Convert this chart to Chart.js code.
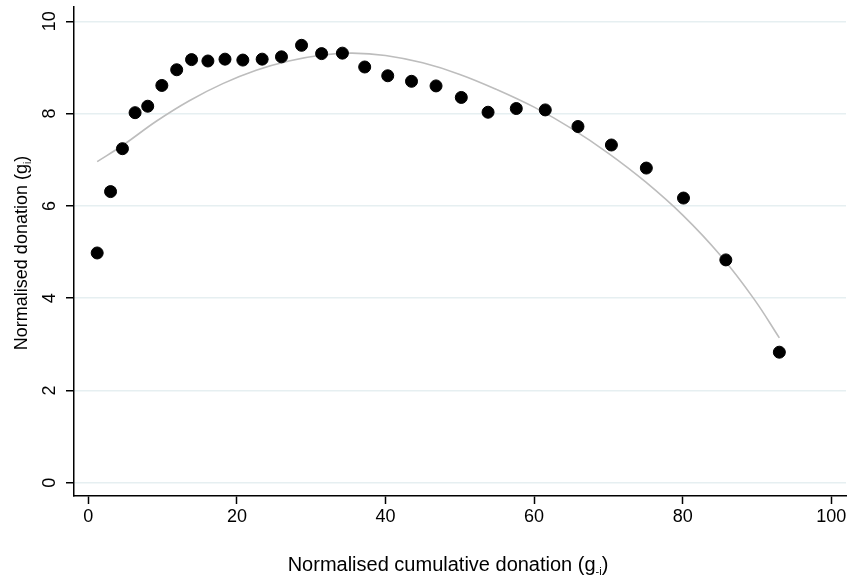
<!DOCTYPE html>
<html>
<head>
<meta charset="utf-8">
<script src="https://cdn.jsdelivr.net/npm/chart.js@4.4.1/dist/chart.umd.min.js"></script>
<style>
  html, body { margin: 0; padding: 0; background: #fff; }
  #wrap { width: 853px; height: 581px; position: relative; }
</style>
</head>
<body>
<div id="wrap"><canvas id="chart"></canvas></div>
<script>
/* Data */
const donX = [1.2, 3.0, 4.6, 6.3, 8.0, 9.9, 11.9, 13.9, 16.1, 18.4, 20.8, 23.4, 26.0, 28.7, 31.4,
  34.2, 37.2, 40.3, 43.5, 46.8, 50.2, 53.8, 57.6, 61.5, 65.9, 70.4, 75.1, 80.1, 85.8, 93.0];
const donY = [4.98, 6.31, 7.24, 8.02, 8.16, 8.61, 8.95, 9.17, 9.14, 9.18, 9.16, 9.18, 9.23, 9.48, 9.30,
  9.31, 9.01, 8.82, 8.70, 8.60, 8.35, 8.03, 8.11, 8.08, 7.72, 7.32, 6.82, 6.17, 4.83, 2.83];

// fitted curve
const fitX = [1.2, 4.7, 9.2, 13.6, 18.1, 22.6, 27.0, 31.5, 35.5, 40.0, 45.0, 50.0, 55.0, 60.0,
  65.0, 70.0, 75.0, 80.0, 85.0, 89.6, 93.0];
const fitY = [6.96, 7.32, 7.84, 8.28, 8.65, 8.94, 9.14, 9.27, 9.31, 9.26, 9.10, 8.85, 8.52, 8.14,
  7.68, 7.14, 6.52, 5.80, 4.94, 3.98, 3.14];

const xTicks = [0, 20, 40, 60, 80, 100];
const yTicks = [0, 2, 4, 6, 8, 10];

const xTitle = ['Normalised cumulative donation (g', '-i', ')'];
const yTitle = ['Normalised donation (g', 'i', ')'];

const FONT = "'Liberation Sans', Arial, sans-serif";

/* draw a title with a subscript part */
function drawSubTitle(ctx, parts, size, subSize) {
  ctx.font = size + 'px ' + FONT;
  const w0 = ctx.measureText(parts[0]).width;
  const w2 = ctx.measureText(parts[2]).width;
  ctx.font = subSize + 'px ' + FONT;
  const w1 = ctx.measureText(parts[1]).width;
  let x = -(w0 + w1 + w2) / 2;
  ctx.textAlign = 'left';
  ctx.textBaseline = 'alphabetic';
  ctx.font = size + 'px ' + FONT;
  ctx.fillText(parts[0], x, 0); x += w0;
  ctx.font = subSize + 'px ' + FONT;
  ctx.fillText(parts[1], x, 4); x += w1;
  ctx.font = size + 'px ' + FONT;
  ctx.fillText(parts[2], x, 0);
}

const labelsPlugin = {
  id: 'labels',
  afterDraw(chart) {
    const ctx = chart.ctx;
    const ys = chart.scales.y;
    ctx.save();
    ctx.fillStyle = '#000';
    // rotated y tick labels
    ctx.font = '18px ' + FONT;
    yTicks.forEach(v => {
      ctx.save();
      ctx.translate(55, ys.getPixelForValue(v));
      ctx.rotate(-Math.PI / 2);
      ctx.textAlign = 'center';
      ctx.textBaseline = 'alphabetic';
      ctx.fillText(String(v), 0, 0);
      ctx.restore();
    });
    // x title
    ctx.save();
    ctx.translate(448, 571);
    drawSubTitle(ctx, xTitle, 20, 11);
    ctx.restore();
    // y title
    ctx.save();
    ctx.translate(27, 253);
    ctx.rotate(-Math.PI / 2);
    drawSubTitle(ctx, yTitle, 18, 10);
    ctx.restore();
    ctx.restore();
  }
};

new Chart(document.getElementById('chart'), {
  type: 'scatter',
  data: {
    datasets: [
      {
        data: donX.map((x, i) => ({ x, y: donY[i] })),
        backgroundColor: '#000', borderColor: '#000',
        pointRadius: 6, pointHoverRadius: 6
      },
      {
        type: 'line',
        data: fitX.map((x, i) => ({ x, y: fitY[i] })),
        borderColor: '#bdbdbd', borderWidth: 1.6,
        pointRadius: 0, fill: false, tension: 0.4
      }
    ]
  },
  options: {
    responsive: true,
    maintainAspectRatio: false,
    animation: false,
    layout: { padding: { top: 7, right: 4, left: 0, bottom: 0 } },
    plugins: { legend: { display: false }, tooltip: { enabled: false } },
    scales: {
      x: {
        type: 'linear', min: -1.92, max: 101.97,
        afterBuildTicks: s => { s.ticks = xTicks.map(v => ({ value: v })); },
        afterFit: s => { s.height = 85; },
        border: { color: '#000', width: 1.5 },
        grid: { drawOnChartArea: false, tickColor: '#000', tickLength: 8, tickWidth: 1.5 },
        ticks: { color: '#000', font: { family: FONT, size: 18 }, padding: 2, maxRotation: 0 }
      },
      y: {
        type: 'linear', min: -0.286, max: 10.31,
        afterBuildTicks: s => { s.ticks = yTicks.map(v => ({ value: v })); },
        afterFit: s => { s.width = 74; },
        border: { color: '#000', width: 1.5 },
        grid: { color: '#e6eff1', lineWidth: 1.5, tickColor: '#000', tickLength: 8, tickWidth: 1.5 },
        ticks: { display: false }
      }
    }
  },
  plugins: [labelsPlugin]
});
</script>
</body>
</html>
